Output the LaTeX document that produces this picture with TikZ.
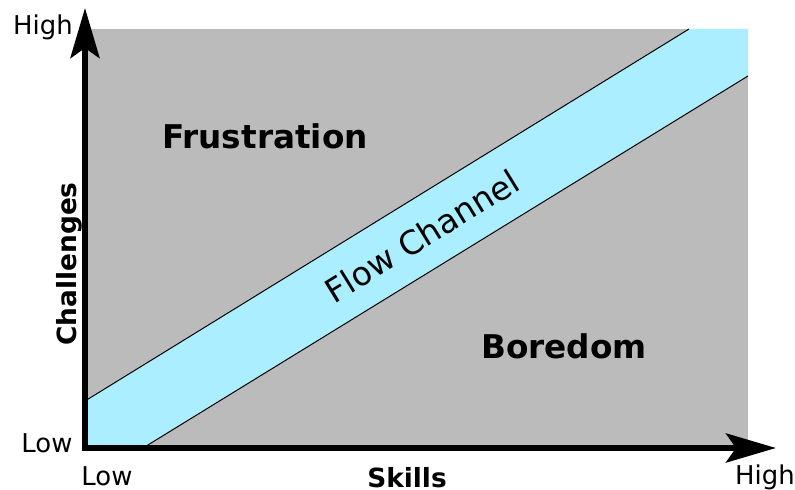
\documentclass[tikz,border=0pt]{standalone}
\usepackage{fontspec}
\setmainfont{DejaVu Sans}
\usetikzlibrary{arrows.meta}
\definecolor{zonegray}{HTML}{BBBBBB}
\definecolor{flowcyan}{HTML}{AAEEFF}

\begin{document}
\begin{tikzpicture}[
    x=1bp, y=-1bp,
    axis/.style={line width=6bp, line cap=rect, -{Stealth[length=50bp,width=29bp,inset=10bp]}},
    edge/.style={draw=black, line width=1bp},
    tick/.style={anchor=base, font=\fontsize{26}{30}\selectfont},
    axlabel/.style={anchor=base, font=\fontsize{26.5}{30}\selectfont\bfseries},
    zone/.style={anchor=base, font=\fontsize{32.8}{36}\selectfont\bfseries}
]
\useasboundingbox (0,0) rectangle (795,490);

% corners of the chart
\coordinate (O) at (85,448);
\coordinate (tl) at (85,29);
\coordinate (tr) at (748,29);
\coordinate (br) at (748,448);
\coordinate (ytip) at (85,8);
\coordinate (xtip) at (776,448);

% flow channel edges
\coordinate (ul) at (85,401);
\coordinate (ur) at (689,29);
\coordinate (ll) at (143,448);
\coordinate (lr) at (748,76);

\fill[zonegray] (O) rectangle (tr);
\fill[flowcyan] (ul) -- (ur) -- (tr) -- (lr) -- (ll) -- (O) -- cycle;
\draw[edge] (ul) -- (ur);
\draw[edge] (ll) -- (lr);

\node[zone] (frus) at (265,149) {Frustration};
\node[zone] (bore) at (564,358) {Boredom};
\node[rotate=31.6, font=\fontsize{33}{36}\selectfont] (flow) at (422,236) {Flow Channel};

\draw[axis] (O) -- (ytip);
\draw[axis] (O) -- (xtip);

\node[tick] (yhigh) at (43,35) {High};
\node[tick] (ylow) at (47,452) {Low};
\node[tick] (xlow) at (107,485) {Low};
\node[tick] (xhigh) at (765,484) {High};
\node[axlabel] (skills) at (407,487) {Skills};
\node[axlabel, rotate=90] (chal) at (76,264) {Challenges};
\end{tikzpicture}
\end{document}
